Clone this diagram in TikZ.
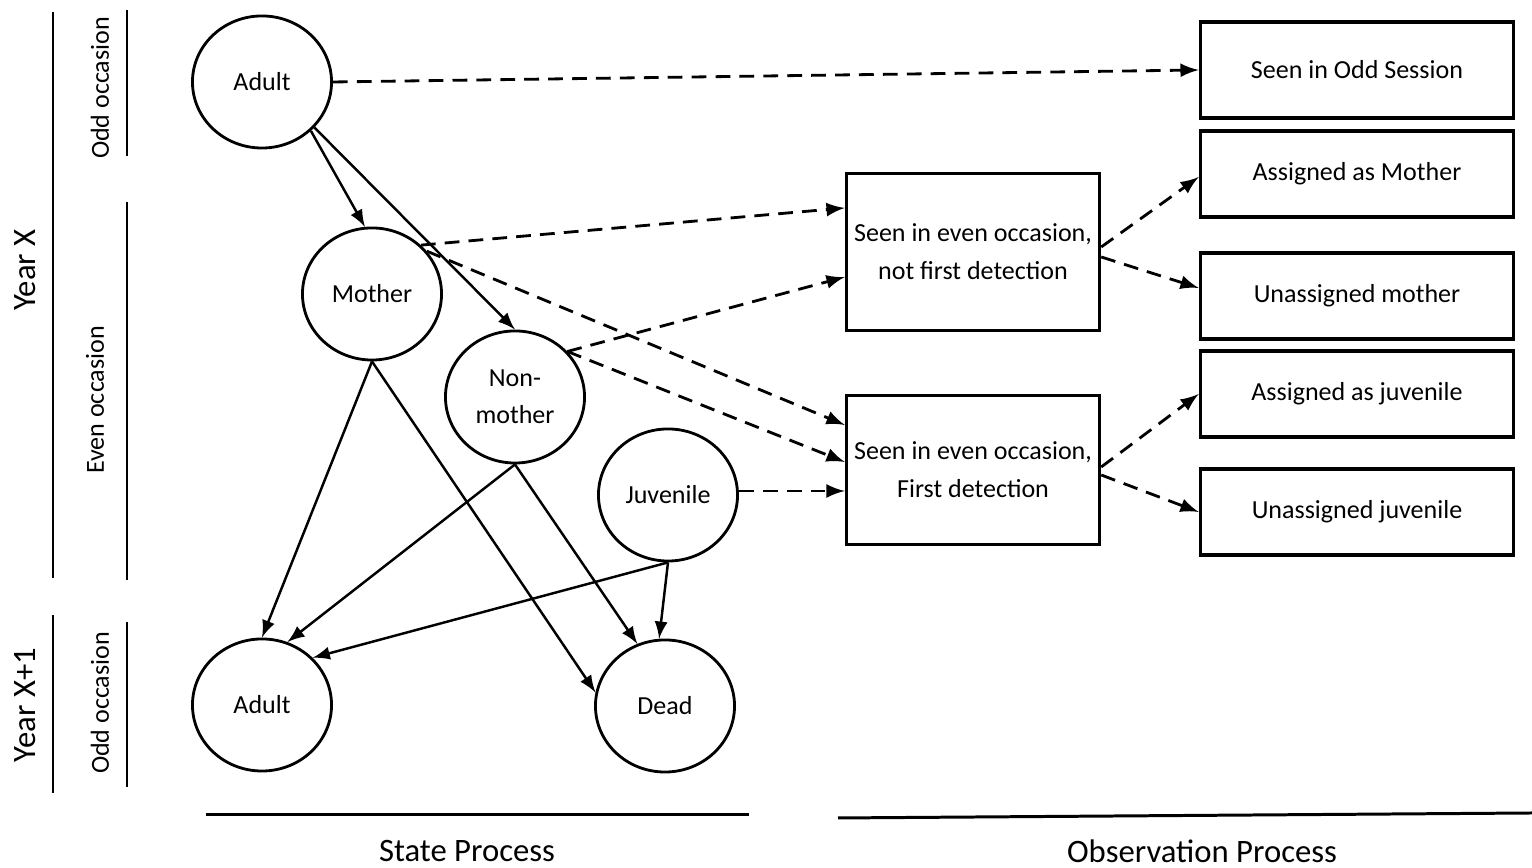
\documentclass[tikz,border=0pt]{standalone}
\usepackage{fontspec}
\setmainfont{Carlito}
\usetikzlibrary{shapes.geometric, calc}

\begin{document}
\begin{tikzpicture}[
         x=0.01cm, y=-0.01cm,
         state/.style={ellipse, draw, line width=0.8pt, minimum width=1.39cm, minimum height=1.32cm, inner sep=0pt, font=\fontsize{7.4}{10.6}\selectfont, align=center},
         obs/.style={rectangle, draw, line width=0.95pt, minimum width=3.13cm, minimum height=0.86cm, font=\fontsize{7.4}{10.8}\selectfont, align=center},
         occasion/.style={obs, inner xsep=2pt, minimum width=2.53cm},
         trans/.style={-latex, line width=0.7pt},
         detect/.style={-latex, line width=0.8pt, dash pattern=on 4.2pt off 2.6pt},
         period/.style={rotate=90, font=\fontsize{7.4}{8}\selectfont},
         year/.style={rotate=90, font=\fontsize{9.3}{10}\selectfont},
         process/.style={font=\fontsize{9.3}{10}\selectfont},
         bar/.style={line width=0.85pt}
      ]
         \useasboundingbox (0,0) rectangle (1532,868);

         % States
         \node[state] (adultA) at (262,82) {Adult};
         \node[state] (mom) at (372,294) {Mother};
         \node[state] (nonmom) at (515,397) {Non-\\mother};
         \node[state] (juv) at (668,495) {Juvenile};
         \node[state] (adultB) at (262,705) {Adult};
         \node[state] (dead) at (665,706) {Dead};

         % Observations
         \node[obs, minimum height=0.96cm] (odd) at (1357,70) {Seen in Odd Session};
         \node[obs] (amom) at (1357,174) {Assigned as Mother};
         \node[obs] (umom) at (1357,296) {Unassigned mother};
         \node[obs] (ajuv) at (1357,394) {Assigned as juvenile};
         \node[obs] (ujuv) at (1357,512) {Unassigned juvenile};
         \node[occasion, minimum height=1.57cm] (notfirst) at (973,252) {Seen in even occasion,\\not first detection};
         \node[occasion, minimum height=1.49cm] (first) at (973,470) {Seen in even occasion,\\First detection};

         % State transitions
         \draw[trans] (adultA.-45) -- (mom.96);
         \draw[trans] (adultA.-41) -- (nonmom.north);
         \draw[trans] (mom.south) -- (adultB.north);
         \draw[trans] (mom.south) -- (dead.169);
         \draw[trans] (nonmom.south) -- (adultB.68);
         \draw[trans] (nonmom.south) -- (dead.114);
         \draw[trans] (juv.south) -- (adultB.43);
         \draw[trans] (juv.south) -- (dead.95);

         % Detections
         \draw[detect] (adultA.east) -- (odd.west);
         \draw[detect] (mom.45) -- ([yshift=0.44cm]notfirst.west);
         \draw[detect] (mom.38) -- ([yshift=0.45cm]first.west);
         \draw[detect] (nonmom.41) -- ([yshift=-0.25cm]notfirst.west);
         \draw[detect] (nonmom.41) -- ([yshift=0.08cm]first.west);
         \draw[detect] ([yshift=0.04cm]juv.east) -- ([yshift=0.04cm]juv.east -| first.west);
         \draw[detect] ([yshift=0.05cm]notfirst.east) -- ([yshift=-0.03cm]amom.west);
         \draw[detect] ([yshift=-0.05cm]notfirst.east) -- ([yshift=0.08cm]umom.west);
         \draw[detect] ([yshift=0.03cm]first.east) -- (ajuv.west);
         \draw[detect] ([yshift=-0.05cm]first.east) -- (ujuv.west);

         % Time axis
         \draw[bar] (53,12) -- (53,578);
         \draw[bar] (53,615) -- (53,793);
         \draw[bar] (127,10) -- (127,156);
         \draw[bar] (127,202) -- (127,580);
         \draw[bar] (127,622) -- (127,787);
         \node[year] (yx) at (25,270) {Year X};
         \node[year] (yx1) at (25,705) {Year X+1};
         \node[period] (oddA) at (100,88) {Odd occasion};
         \node[period] (even) at (95,400) {Even occasion};
         \node[period] (oddB) at (100,703) {Odd occasion};

         % Process labels
         \draw[bar] (206,815) -- (749,815);
         \draw[bar] (838,818) -- (1532,813);
         \node[process] (stp) at (467,851) {State Process};
         \node[process] (obp) at (1202,851) {Observation Process};
      \end{tikzpicture}
\end{document}
